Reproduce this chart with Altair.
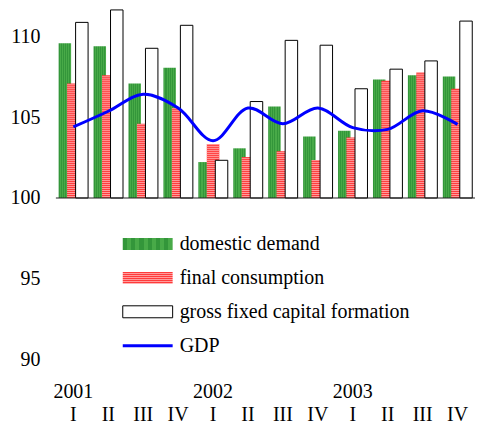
import altair as alt
import pandas as pd

# ---- data ----
year_of = ["2001"] * 4 + ["2002"] * 4 + ["2003"] * 4
quarters = ["I", "II", "III", "IV"] * 3
domestic_demand = [109.56, 109.38, 107.07, 108.04, 102.22, 103.07, 105.66, 103.80, 104.16, 107.32, 107.58, 107.50]
final_consumption = [107.07, 107.58, 104.59, 105.54, 103.32, 102.53, 102.89, 102.35, 103.74, 107.24, 107.74, 106.75]
gross_fixed_capital = [110.85, 111.62, 109.25, 110.67, 102.33, 105.96, 109.74, 109.44, 106.75, 107.96, 108.47, 110.93]
gdp = [104.39, 105.36, 106.41, 105.56, 103.54, 105.56, 104.59, 105.56, 104.35, 104.24, 105.39, 104.55]
y_ticks = [90, 95, 100, 105, 110]
legend_labels = ["domestic demand", "final consumption", "gross fixed capital formation", "GDP"]

periods = [f"{y} {q}" for y, q in zip(year_of, quarters)]
df = pd.DataFrame({
    "period": periods,
    "domestic": domestic_demand,
    "final": final_consumption,
    "gfcf": gross_fixed_capital,
    "gdp": gdp,
})

FONT = "Liberation Serif"
FS = 20
W, H = 420, 367.4
Y_MIN, Y_MAX = 89, 111.65
px_per_unit = H / (Y_MAX - Y_MIN)
BAR_W = 12.5
OFF = 8.5

green_a, green_b = "#33963a", "#48aa48"
red_base, red_light = "#ff3b3b", "#ff9c9c"


def stripes(c1, c2, n, vertical):
    stops = []
    for i in range(n):
        stops += [
            alt.GradientStop(offset=i / n, color=c1),
            alt.GradientStop(offset=(i + 0.5) / n, color=c1),
            alt.GradientStop(offset=(i + 0.5) / n, color=c2),
            alt.GradientStop(offset=(i + 1) / n, color=c2),
        ]
    if vertical:
        return alt.LinearGradient(gradient="linear", stops=stops, x1=0, x2=0, y1=0, y2=1)
    return alt.LinearGradient(gradient="linear", stops=stops, x1=0, x2=1, y1=0, y2=0)


green_fill = stripes(green_a, green_b, 6, vertical=False)

label_expr = ("split(datum.value, ' ')[1] == 'I' ? split(datum.value, ' ') "
              ": ['', split(datum.value, ' ')[1]]")

x_enc = alt.X(
    "period:N", sort=periods,
    scale=alt.Scale(paddingInner=0, paddingOuter=0),
    axis=alt.Axis(title=None, domain=False, ticks=False, grid=False, labelAngle=0,
                  labelFont=FONT, labelFontSize=FS, labelColor="black",
                  labelPadding=5, labelBaseline="top", labelLineHeight=24,
                  labelOverlap=False, labelExpr=label_expr),
)
y_scale = alt.Scale(domain=[Y_MIN, Y_MAX], nice=False, zero=False)
y_axis = alt.Axis(title=None, values=y_ticks, domain=False, ticks=False, grid=False,
                  labelFont=FONT, labelFontSize=FS, labelColor="black", labelPadding=16)

base = alt.Chart(df)

green = base.mark_bar(width=BAR_W, xOffset=-OFF, color=green_fill).encode(
    x=x_enc, y=alt.Y("domestic:Q", scale=y_scale, axis=y_axis), y2=alt.datum(100))

red = base.mark_bar(width=BAR_W, xOffset=0, color=red_base).encode(
    x=x_enc, y=alt.Y("final:Q", scale=y_scale, axis=y_axis), y2=alt.datum(100))

step = 2 / px_per_unit
red_stripes = base.transform_calculate(
    s=f"sequence(100 + {step * 0.75}, datum.final, {step})"
).transform_flatten(["s"]).mark_tick(
    thickness=1, size=BAR_W, xOffset=0, color=red_light, opacity=1
).encode(x=x_enc, y=alt.Y("s:Q", scale=y_scale, axis=y_axis))

white = base.mark_bar(width=BAR_W, xOffset=OFF, fill="white", stroke="black", strokeWidth=1).encode(
    x=x_enc, y=alt.Y("gfcf:Q", scale=y_scale, axis=y_axis), y2=alt.datum(100))

baseline = alt.Chart(pd.DataFrame({"v": [100]})).mark_rule(color="#222222", strokeWidth=1).encode(
    y=alt.Y("v:Q", scale=y_scale, axis=y_axis))

line = base.mark_line(color="#0000ff", strokeWidth=3, interpolate="catmull-rom").encode(
    x=x_enc, y=alt.Y("gdp:Q", scale=y_scale, axis=y_axis))

# ---- manual legend (inside the plot area) ----
SYM_X0, SYM_X1, TXT_X = 67, 117, 124
ROW0, ROW_GAP, SYM_H = 235, 34, 12
legend_layers = []
for i, name in enumerate(legend_labels):
    cy = ROW0 + i * ROW_GAP
    d = pd.DataFrame({"label": [name]})
    if i == 3:
        sym = alt.Chart(d).mark_rule(color="#0000ff", strokeWidth=3).encode(
            x=alt.value(SYM_X0), x2=alt.value(SYM_X1), y=alt.value(cy))
    else:
        if i == 0:
            mk = dict(color=green_fill)
        elif i == 1:
            mk = dict(color=stripes(red_base, red_light, 6, vertical=True))
        else:
            mk = dict(fill="white", stroke="black", strokeWidth=1)
        sym = alt.Chart(d).mark_rect(**mk).encode(
            x=alt.value(SYM_X0), x2=alt.value(SYM_X1),
            y=alt.value(cy - SYM_H / 2), y2=alt.value(cy + SYM_H / 2))
    txt = alt.Chart(d).mark_text(align="left", baseline="middle", font=FONT, fontSize=FS,
                                 color="black").encode(
        x=alt.value(TXT_X), y=alt.value(cy), text="label:N")
    legend_layers += [sym, txt]

chart = alt.layer(green, red, red_stripes, white, baseline, line, *legend_layers).properties(
    width=W, height=H,
    padding={"left": 2, "top": 0, "right": 0, "bottom": 0},
).configure(
    background="white",
    view=alt.ViewConfig(stroke="transparent", strokeWidth=0),
    font=FONT,
).configure_axis(labelFont=FONT)

chart.save("out.html", embed_options={"renderer": "svg", "actions": False})
